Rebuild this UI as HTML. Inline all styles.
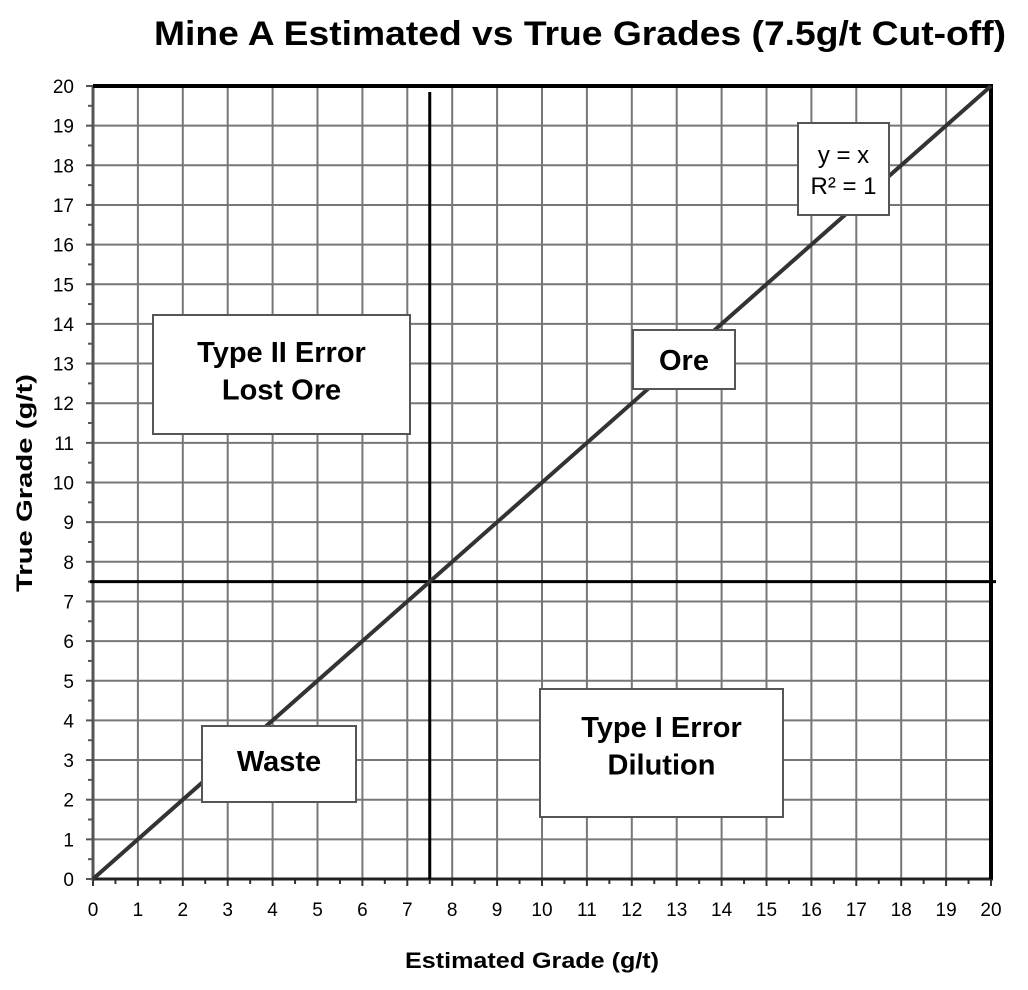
<!DOCTYPE html>
<html><head><meta charset="utf-8"><style>
body{margin:0;background:#fff;}
svg text{font-family:"Liberation Sans",sans-serif;}
</style></head><body>
<svg id="chart" width="1028" height="985" xmlns="http://www.w3.org/2000/svg">
<rect width="1028" height="985" fill="#fff"/>
<text x="580" y="45" font-size="34" font-weight="bold" text-anchor="middle" textLength="852" lengthAdjust="spacingAndGlyphs">Mine A Estimated vs True Grades (7.5g/t Cut-off)</text>
<g id="grid"></g>
<g id="axes"></g>
<g id="series"></g>
<g id="labels"></g>
<text x="532" y="968" font-size="22" font-weight="bold" text-anchor="middle" textLength="254" lengthAdjust="spacingAndGlyphs">Estimated Grade (g/t)</text>
<text transform="translate(32,483) rotate(-90)" font-size="22" font-weight="bold" text-anchor="middle" textLength="218" lengthAdjust="spacingAndGlyphs">True Grade (g/t)</text>
</svg>
<script>
const xTicks=[0,1,2,3,4,5,6,7,8,9,10,11,12,13,14,15,16,17,18,19,20];
const yTicks=[0,1,2,3,4,5,6,7,8,9,10,11,12,13,14,15,16,17,18,19,20];
const lineX=[0,20];
const lineY=[0,20];
const cutoff=[7.5];
const NS="http://www.w3.org/2000/svg";
const X0=93,X1=991,Y0=879,Y1=86;
const sx=v=>X0+(v-0)/20*(X1-X0);
const sy=v=>Y0-(v-0)/20*(Y0-Y1);
function mk(tag,attrs,parent){const e=document.createElementNS(NS,tag);for(const k in attrs)e.setAttribute(k,attrs[k]);parent.appendChild(e);return e;}
const grid=document.getElementById('grid'),axes=document.getElementById('axes'),ser=document.getElementById('series'),lab=document.getElementById('labels');
xTicks.forEach(v=>{
 const l=mk('line',{x1:sx(v),x2:sx(v),y1:Y1,y2:Y0,stroke:'#777','stroke-width':2},grid);
 
 
 const t=mk('text',{x:sx(v),y:Y0+37,'font-size':19,'text-anchor':'middle'},axes);
 t.textContent=v;
 
 
 mk('line',{x1:sx(v),x2:sx(v),y1:Y0,y2:Y0+7,stroke:'#333','stroke-width':2},axes);
 if(v<20)mk('line',{x1:sx(v+0.5),x2:sx(v+0.5),y1:Y0,y2:Y0+5,stroke:'#333','stroke-width':2},axes);
});
yTicks.forEach(v=>{
 const l=mk('line',{x1:X0,x2:X1,y1:sy(v),y2:sy(v),stroke:'#777','stroke-width':2},grid);
 
 
 const t=mk('text',{x:X0-19,y:sy(v)+7,'font-size':19,'text-anchor':'end'},axes);
 t.textContent=v;
 
 
 mk('line',{x1:X0-7,x2:X0,y1:sy(v),y2:sy(v),stroke:'#555','stroke-width':2},axes);
 if(v<20)mk('line',{x1:X0-5,x2:X0,y1:sy(v+0.5),y2:sy(v+0.5),stroke:'#555','stroke-width':2},axes);
});
mk('line',{x1:X0,x2:X0,y1:Y1,y2:Y0+2,stroke:'#555','stroke-width':3},axes);
mk('line',{x1:X0,x2:X1+2,y1:Y0,y2:Y0,stroke:'#222','stroke-width':3},axes);
mk('line',{x1:X0,x2:X1+2,y1:Y1,y2:Y1,stroke:'#000','stroke-width':4},axes);
mk('line',{x1:X1,x2:X1,y1:Y1,y2:Y0,stroke:'#000','stroke-width':4},axes);
const vl=mk('line',{x1:sx(cutoff[0]),x2:sx(cutoff[0]),y1:92,y2:Y0,stroke:'#000','stroke-width':3},ser);


const hl=mk('line',{x1:90,x2:996,y1:sy(cutoff[0]),y2:sy(cutoff[0]),stroke:'#000','stroke-width':3},ser);


const dl=mk('line',{x1:sx(lineX[0]),y1:sy(lineY[0]),x2:sx(lineX[1]),y2:sy(lineY[1]),stroke:'#333','stroke-width':4},ser);


function box(name,x,y,w,h,lines,fs,bold,dy){
 const g=mk('g',{},lab);
 
 
 mk('rect',{x:x,y:y,width:w,height:h,fill:'#fff',stroke:'#555','stroke-width':2},g);
 lines.forEach((s,i)=>{const t=mk('text',{x:x+w/2,y:y+dy+i*(fs*1.3),'font-size':fs,'font-weight':bold?'bold':'normal','text-anchor':'middle'},g);t.textContent=s;});
}
box('equation-label',798,123,91,92,['y = x','R² = 1'],24,false,40);
box('type-ii-error-label',153,315,257,119,['Type II Error','Lost Ore'],29,true,47);
box('ore-label',633,330,102,59,['Ore'],29,true,40);
box('waste-label',202,726,154,76,['Waste'],29,true,45);
box('type-i-error-label',540,689,243,128,['Type I Error','Dilution'],29,true,48);
</script>
</body></html>
